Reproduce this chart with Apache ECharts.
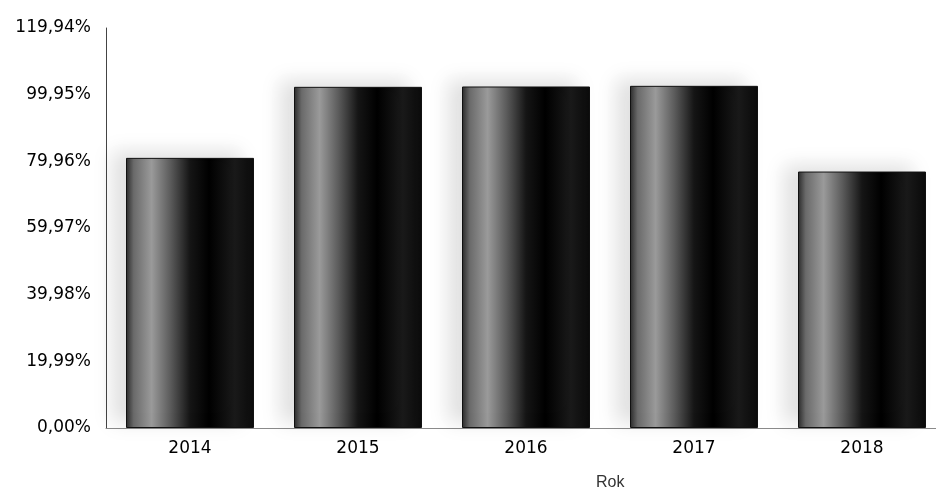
<!DOCTYPE html>
<html>
<head>
<meta charset="utf-8">
<script src="https://cdn.jsdelivr.net/npm/echarts@6/dist/echarts.min.js"></script>
<style>
html,body{margin:0;padding:0;background:#fff;overflow:hidden;width:936px;height:499px;}
#chart{width:952px;height:499px;}
</style>
</head>
<body>
<div id="chart"></div>
<script>
const categories = ['2014', '2015', '2016', '2017', '2018'];
const values = [81.0, 102.3, 102.4, 102.6, 76.9];
const yTicks = [0, 19.99, 39.98, 59.97, 79.96, 99.95, 119.94];
const xAxisTitle = 'Rok';

const fmt = v => v.toFixed(2).replace('.', ',') + '%';

const chart = echarts.init(document.getElementById('chart'), null, {renderer: 'canvas'});
chart.setOption({
  animation: false,
  backgroundColor: '#ffffff',
  grid: {left: 106, top: 28, width: 840, height: 400, containLabel: false},
  xAxis: {
    type: 'category',
    data: categories,
    axisLine: {lineStyle: {color: '#8a8a8a', width: 1}},
    axisTick: {show: false},
    axisLabel: {color: '#000', fontFamily: 'DejaVu Sans', fontSize: 17, margin: 12}
  },
  yAxis: {
    type: 'value',
    min: yTicks[0],
    max: yTicks[yTicks.length - 1],
    interval: yTicks[1] - yTicks[0],
    splitLine: {show: false},
    axisLine: {show: true, lineStyle: {color: '#444', width: 1}},
    axisTick: {show: false},
    axisLabel: {
      color: '#000', fontFamily: 'DejaVu Sans', fontSize: 17, margin: 15,
      formatter: (v) => {
        let best = yTicks.reduce((a, b) => Math.abs(b - v) < Math.abs(a - v) ? b : a);
        return fmt(best);
      }
    }
  },
  series: [{
    type: 'bar',
    data: values,
    barWidth: 128,
    itemStyle: {
      color: new echarts.graphic.LinearGradient(0, 0, 1, 0, [
        {offset: 0, color: '#2a2a2a'},
        {offset: 0.06, color: '#6a6a6a'},
        {offset: 0.2, color: '#9a9a9a'},
        {offset: 0.35, color: '#5a5a5a'},
        {offset: 0.5, color: '#151515'},
        {offset: 0.65, color: '#000000'},
        {offset: 0.85, color: '#1a1a1a'},
        {offset: 1, color: '#0a0a0a'}
      ]),
      borderColor: '#111',
      borderWidth: 1,
      shadowColor: 'rgba(0,0,0,0.12)',
      shadowBlur: 18,
      shadowOffsetX: -14,
      shadowOffsetY: -6
    }
  }],
  graphic: [{
    type: 'text',
    left: 596,
    top: 475,
    style: {text: xAxisTitle, fill: '#333', font: '16px "Liberation Sans", Arial, sans-serif'}
  }]
});
</script>
</body>
</html>
